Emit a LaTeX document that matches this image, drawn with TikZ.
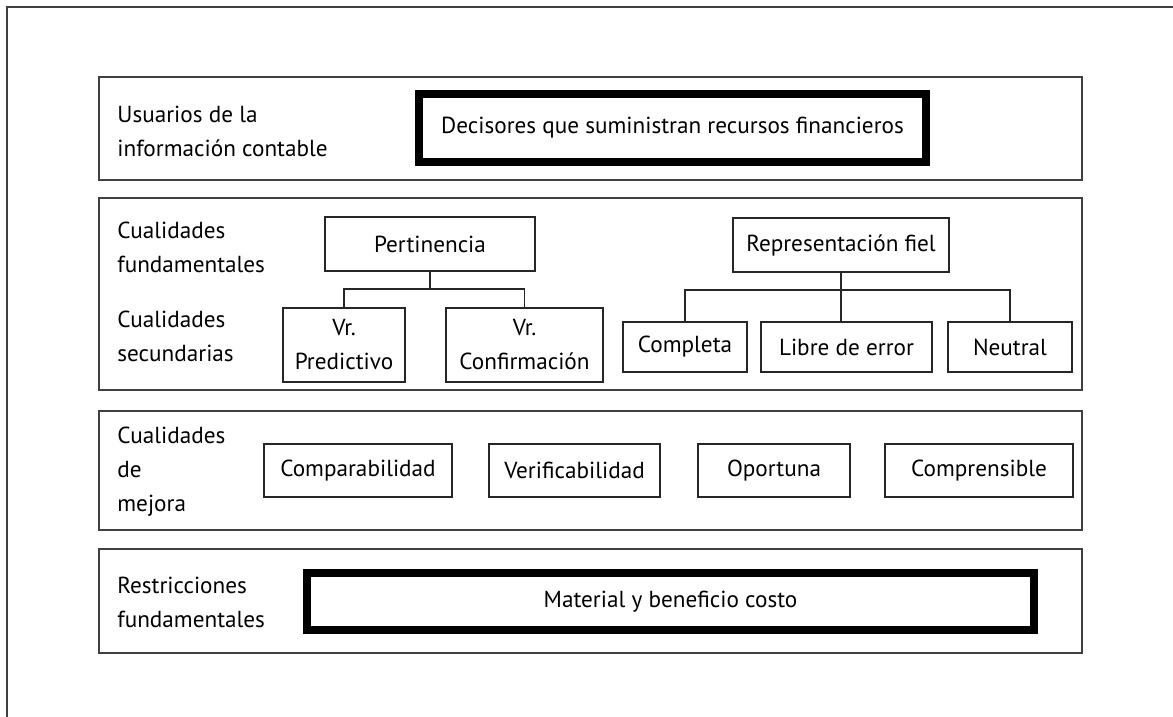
\documentclass[tikz,border=0pt]{standalone}
\usepackage{fontspec}
\setmainfont{PT Sans}
\newcommand\mylblfont{\fontsize{11.6}{17}\selectfont}
\begin{document}
\begin{tikzpicture}[x=0.5pt,y=-0.5pt,
  frameline/.style={draw=black!75, line width=0.7pt},
  section/.style={draw=black!75, line width=0.7pt, inner sep=0pt, outer sep=0pt, minimum width=491.5pt},
  qbox/.style={draw=black!85, line width=0.7pt, inner sep=0pt, outer sep=0pt, align=center, font=\mylblfont},
  thickbox/.style={draw=black, line width=4pt, inner sep=0pt, outer sep=0pt, font=\mylblfont},
  sidelabel/.style={anchor=west, align=left, inner sep=0pt, font=\mylblfont},
  conn/.style={draw=black!85, line width=0.7pt}]
\useasboundingbox (0,0) rectangle (1173,717);
\draw[frameline] (7,717) -- (7,7) -- (1173,7);
% sections
\node[section, minimum height=51.5pt] (s1) at (590.5,128.5) {};
\node[section, minimum height=96pt] (s2) at (590.5,294) {};
\node[section, minimum height=59.5pt] (s3) at (590.5,470.5) {};
\node[section, minimum height=52pt] (s4) at (590.5,601) {};
% side labels
\node[sidelabel] (l1) at (117,131) {Usuarios de la\\información contable};
\node[sidelabel] (l2) at (117,247) {Cualidades\\fundamentales};
\node[sidelabel] (l3) at (117,336) {Cualidades\\secundarias};
\node[sidelabel] (l4) at (117,472) {Cualidades\\de\\mejora};
\node[sidelabel] (l5) at (117,602) {Restricciones\\fundamentales};
% thick boxes
\node[thickbox, minimum width=253.5pt, minimum height=34pt] (users) at (672.5,128) {Decisores que suministran recursos financieros};
\node[thickbox, minimum width=363.5pt, minimum height=28.5pt] (mat) at (670.5,601.5) {Material y beneficio costo};
% qualities
\node[qbox, minimum width=105pt, minimum height=27pt] (pert) at (430,244) {Pertinencia};
\node[qbox, minimum width=61pt, minimum height=37pt] (pred) at (344,345) {Vr.\\Predictivo};
\node[qbox, minimum width=78.5pt, minimum height=37pt] (conf) at (524.5,345) {Vr.\\Confirmación};
\node[qbox, minimum width=108pt, minimum height=27pt] (rep) at (841,245) {Representación fiel};
\node[qbox, minimum width=62pt, minimum height=25pt] (compl) at (685,347) {Completa};
\node[qbox, minimum width=85.5pt, minimum height=25pt] (libre) at (846.5,347) {Libre de error};
\node[qbox, minimum width=62pt, minimum height=25pt] (neut) at (1010,347) {Neutral};
\node[qbox, minimum width=94pt, minimum height=26.5pt] (compa) at (358,470.5) {Comparabilidad};
\node[qbox, minimum width=85.5pt, minimum height=26.5pt] (verif) at (574.5,470.5) {Verificabilidad};
\node[qbox, minimum width=76pt, minimum height=26.5pt] (oport) at (774,470.5) {Oportuna};
\node[qbox, minimum width=94pt, minimum height=26.5pt] (compr) at (979,470.5) {Comprensible};
% connectors
\coordinate (pbus) at (430,289);
\draw[conn] (pert.south) -- (pbus);
\draw[conn] (pred.north) |- (pbus) -| (conf.north);
\coordinate (rbus) at (841,290);
\draw[conn] (rep.south) -- (rbus);
\draw[conn] (compl.north) |- (rbus) -| (neut.north);
\draw[conn] (rbus) -- (rbus |- libre.north);
\end{tikzpicture}
\end{document}
